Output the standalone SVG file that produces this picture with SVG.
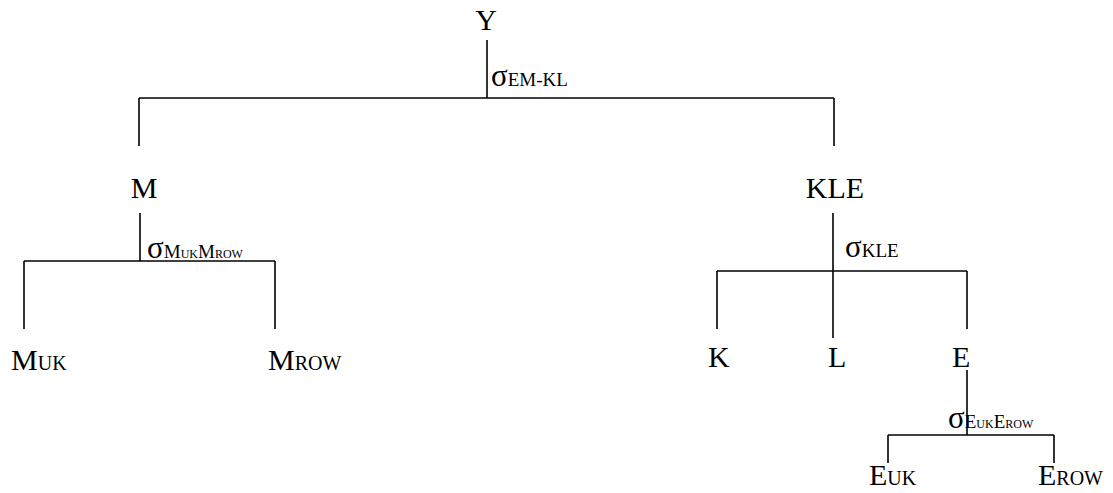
<svg xmlns="http://www.w3.org/2000/svg" width="1113" height="493" viewBox="0 0 1113 493">
<style>
.n{font-family:"Liberation Serif","Times New Roman",serif;font-size:30px;fill:#000}
.ns{font-size:20px}
.lb{font-family:"Liberation Serif","Times New Roman",serif;font-size:19px;fill:#000}
.sg{font-size:31px}
.ls{font-size:12px}
.c line{stroke:#000;stroke-width:1.6}
</style>
<rect width="1113" height="493" fill="#fff"/>
<g class="c" id="connectors">
<line x1="487" y1="40" x2="487" y2="98"/>
<line x1="139" y1="98" x2="834" y2="98"/>
<line x1="139" y1="98" x2="139" y2="146"/>
<line x1="834" y1="98" x2="834" y2="146"/>
<line x1="140" y1="213" x2="140" y2="261"/>
<line x1="24" y1="261" x2="275" y2="261"/>
<line x1="24" y1="261" x2="24" y2="329"/>
<line x1="275" y1="261" x2="275" y2="329"/>
<line x1="833" y1="213" x2="833" y2="338"/>
<line x1="717" y1="271" x2="967" y2="271"/>
<line x1="717" y1="271" x2="717" y2="329"/>
<line x1="967" y1="271" x2="967" y2="329"/>
<line x1="967" y1="370" x2="967" y2="435"/>
<line x1="888" y1="435" x2="1054" y2="435"/>
<line x1="888" y1="435" x2="888" y2="463"/>
<line x1="1054" y1="435" x2="1054" y2="463"/>
</g>
<g id="labels">
<text class="lb" x="491" y="86"><tspan class="sg">σ</tspan>EM-KL</text>
<text class="lb" x="147" y="258"><tspan class="sg">σ</tspan>M<tspan class="ls">UK</tspan>M<tspan class="ls">ROW</tspan></text>
<text class="lb" x="845" y="257"><tspan class="sg">σ</tspan>KLE</text>
<text class="lb" x="948" y="428"><tspan class="sg">σ</tspan>E<tspan class="ls">UK</tspan>E<tspan class="ls">ROW</tspan></text>
</g>
<g id="node-Y"><text class="n" x="486" y="30" text-anchor="middle">Y</text></g>
<g id="node-M"><text class="n" x="144" y="198" text-anchor="middle">M</text></g>
<g id="node-KLE"><text class="n" x="835" y="198" text-anchor="middle">KLE</text></g>
<g id="node-MUK"><text class="n" x="11" y="370">M<tspan class="ns">UK</tspan></text></g>
<g id="node-MROW"><text class="n" x="268" y="370">M<tspan class="ns">ROW</tspan></text></g>
<g id="node-K"><text class="n" x="708" y="367">K</text></g>
<g id="node-L"><text class="n" x="828" y="367">L</text></g>
<g id="node-E"><text class="n" x="952" y="367">E</text></g>
<g id="node-EUK"><text class="n" x="869" y="485">E<tspan class="ns">UK</tspan></text></g>
<g id="node-EROW"><text class="n" x="1038" y="485">E<tspan class="ns">ROW</tspan></text></g>
</svg>
